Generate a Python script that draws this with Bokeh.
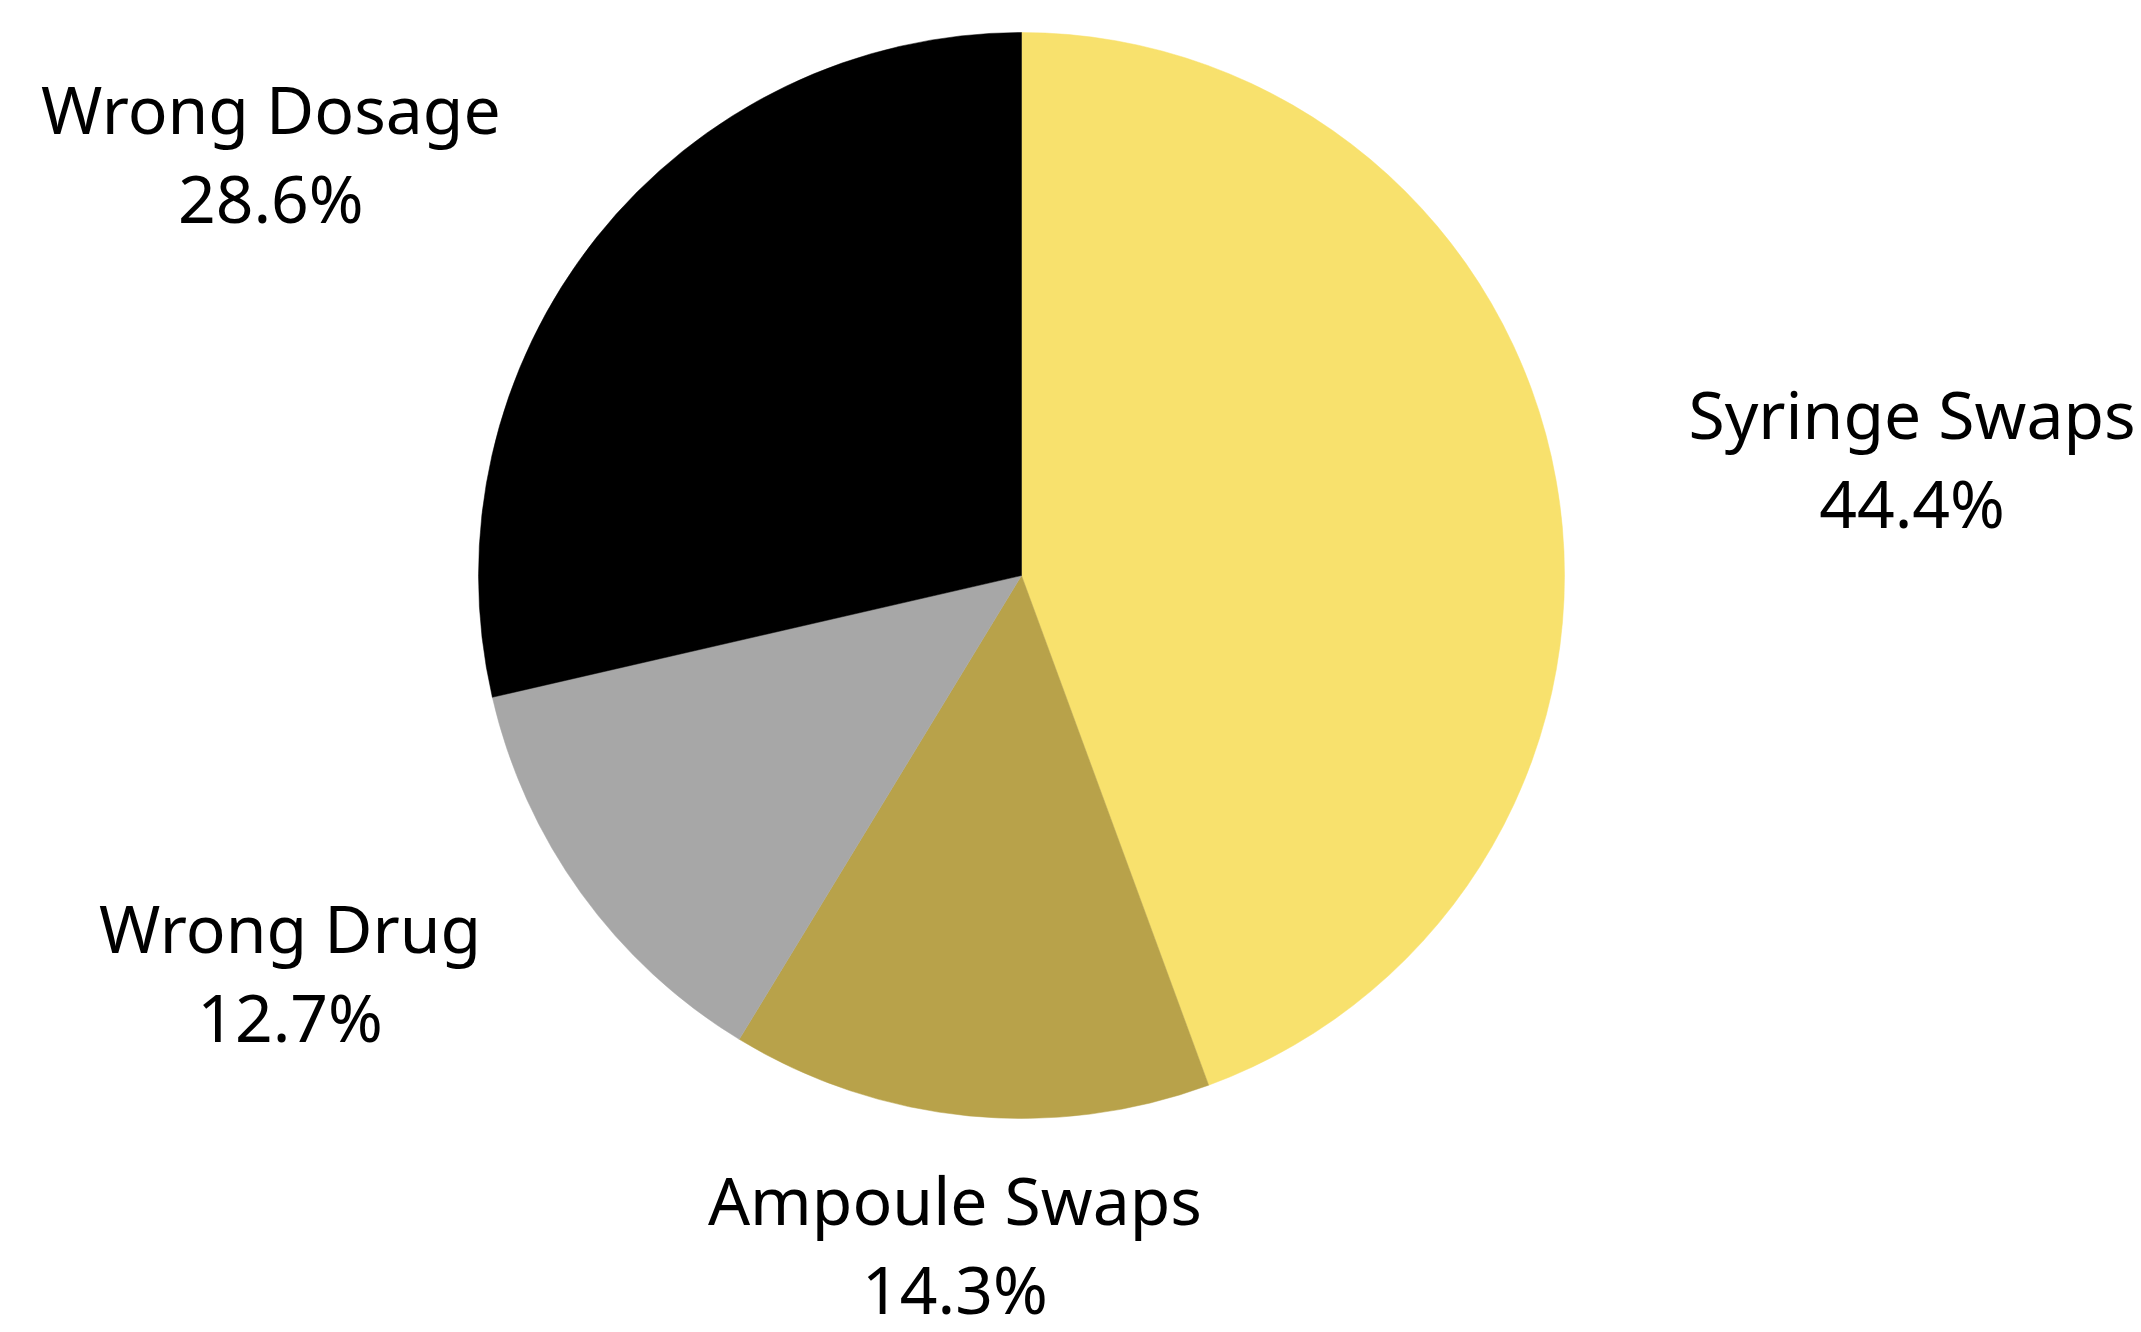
import math
from bokeh.plotting import figure
from bokeh.models import Range1d, ColumnDataSource
from bokeh.core.properties import value
from bokeh.embed import file_html
from bokeh.resources import INLINE

# ---- data ----
categories = ["Syringe Swaps", "Ampoule Swaps", "Wrong Drug", "Wrong Dosage"]
percent = [44.4, 14.3, 12.7, 28.6]
colors = ["#F8E16D", "#B8A24A", "#A7A7A7", "#000000"]

# ---- layout / style ----
W, H = 2141, 1332
PAGE_W, PAGE_H = 2141, 1332
CX, CY_PAGE, R = 1021, 575, 543
CY = PAGE_H - CY_PAGE
LABEL_R = 870
FONT = "Noto Sans"
FSIZE = "66px"
LINE_GAP = 89
# per-label nudges (x, y in page px) from radial anchor to first-line baseline
nudges = {
    "Syringe Swaps": (34, -10),
    "Ampoule Swaps": (18, -242),
    "Wrong Drug": (-26, -158),
    "Wrong Dosage": (-70, 74),
}

total = sum(percent)
starts, ends, mids = [], [], []
a = math.pi / 2
for v in percent:
    span = 2 * math.pi * v / total
    starts.append(a)
    ends.append(a - span)
    mids.append(a - span / 2)
    a -= span

p = figure(width=W, height=H, output_backend="svg", toolbar_location=None,
           x_range=Range1d(0, W), y_range=Range1d(PAGE_H - H, PAGE_H),
           min_border=0)
p.axis.visible = False
p.grid.visible = False
p.outline_line_color = None
p.background_fill_color = "white"
p.border_fill_color = "white"

src = ColumnDataSource(dict(start=starts, end=ends, color=colors, cat=categories))
p.wedge(x=CX, y=CY, radius=R, start_angle="end", end_angle="start",
        color="color", line_color="color", line_width=0.5, source=src)

names_x, names_y, pct_y, pct_txt = [], [], [], []
for c, v, m in zip(categories, percent, mids):
    ax = CX + LABEL_R * math.cos(m)
    ay_page = CY_PAGE - LABEL_R * math.sin(m)
    dx, dy = nudges[c]
    names_x.append(ax + dx)
    by = ay_page + dy
    names_y.append(PAGE_H - by)
    pct_y.append(PAGE_H - (by + LINE_GAP))
    pct_txt.append(f"{v:.1f}%")

p.text(x=names_x, y=names_y, text=categories, text_font=value(FONT),
       text_font_size=FSIZE, text_align="center", text_baseline="alphabetic",
       text_color="black")
p.text(x=names_x, y=pct_y, text=pct_txt, text_font=value(FONT),
       text_font_size=FSIZE, text_align="center", text_baseline="alphabetic",
       text_color="black")

open("out.html", "w").write(file_html(p, INLINE))
